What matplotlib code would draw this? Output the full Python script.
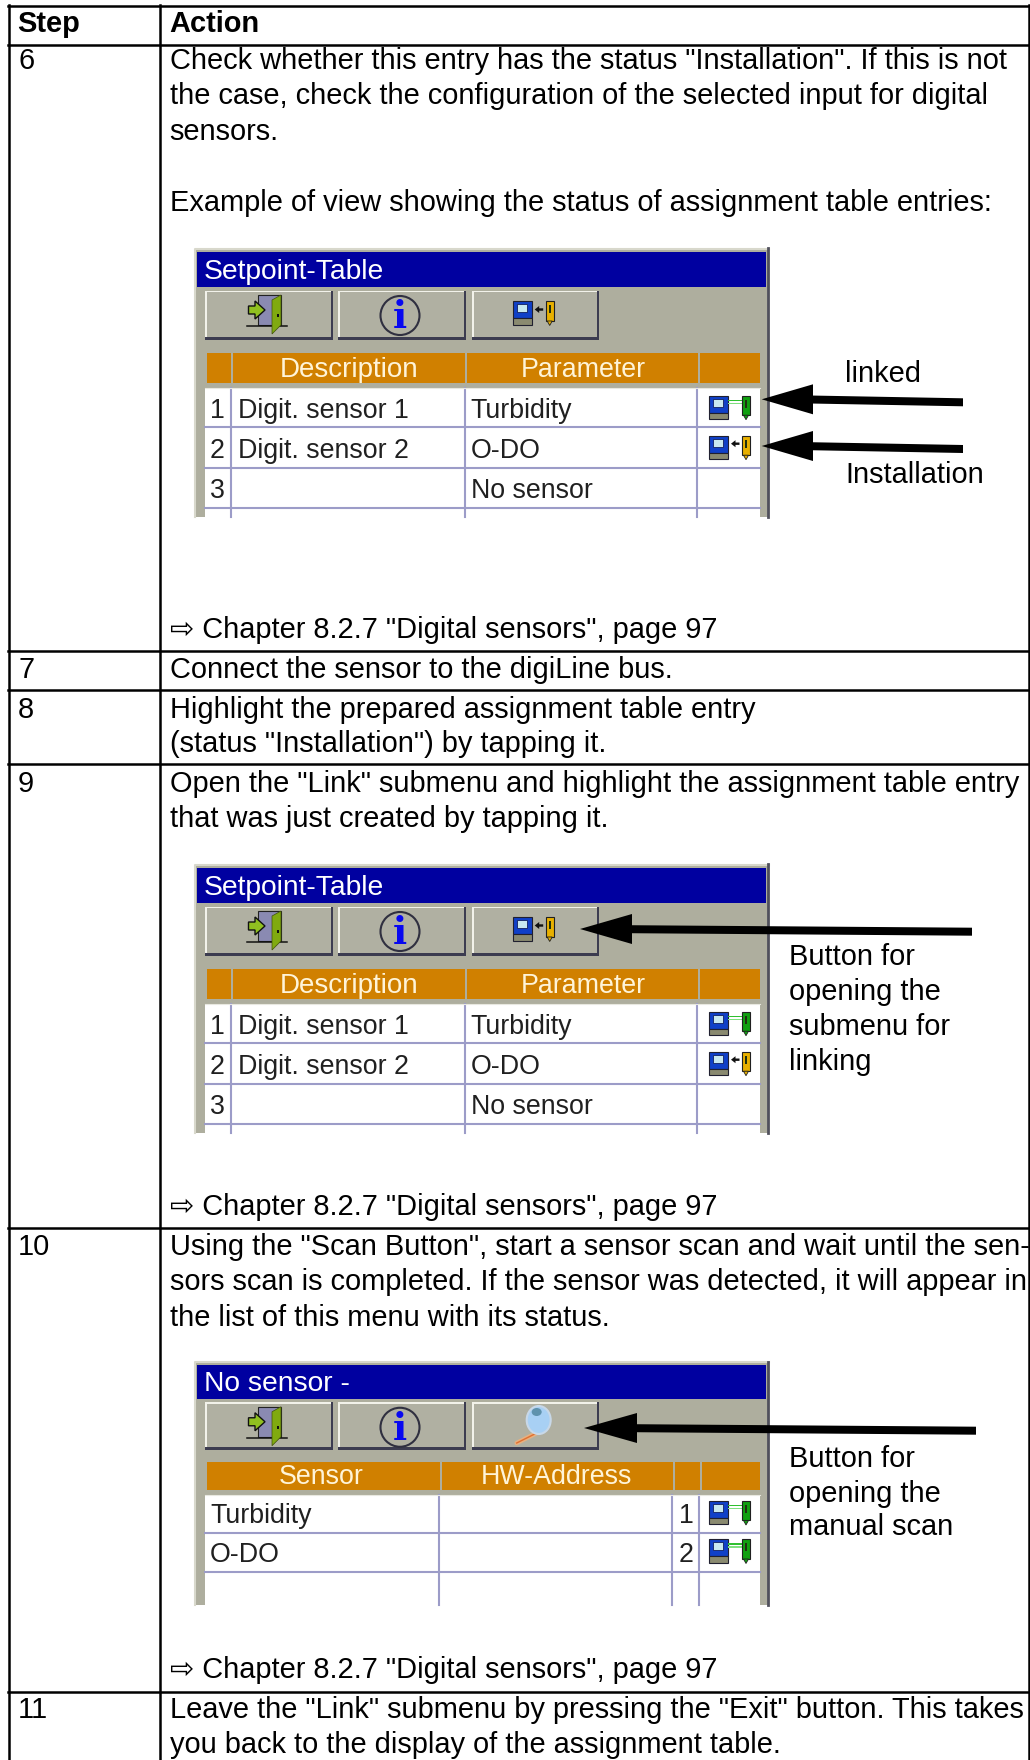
import matplotlib
matplotlib.use("Agg")
import matplotlib.pyplot as plt
from matplotlib.patches import Rectangle, Polygon, Circle, Ellipse

plt.rcParams['font.family'] = ['Liberation Sans', 'DejaVu Sans']

# table text
header = ["Step", "Action"]
row_lines = [650.7, 690, 764, 1228, 1692]
rows = [
    ("6", 69, [("Check whether this entry has the status \"Installation\". If this is not", 69),
               ("the case, check the configuration of the selected input for digital", 104.5),
               ("sensors.", 140),
               ("Example of view showing the status of assignment table entries:", 211),
               ("\u21e8 Chapter 8.2.7 \"Digital sensors\", page 97", 638)]),
    ("7", 678, [("Connect the sensor to the digiLine bus.", 678)]),
    ("8", 717.7, [("Highlight the prepared assignment table entry", 717.7),
                  ("(status \"Installation\") by tapping it.", 752.5)]),
    ("9", 792, [("Open the \"Link\" submenu and highlight the assignment table entry", 792),
                ("that was just created by tapping it.", 827),
                ("\u21e8 Chapter 8.2.7 \"Digital sensors\", page 97", 1215)]),
    ("10", 1255, [("Using the \"Scan Button\", start a sensor scan and wait until the sen-", 1255),
                  ("sors scan is completed. If the sensor was detected, it will appear in", 1290.5),
                  ("the list of this menu with its status.", 1325.5),
                  ("\u21e8 Chapter 8.2.7 \"Digital sensors\", page 97", 1678)]),
    ("11", 1718, [("Leave the \"Link\" submenu by pressing the \"Exit\" button. This takes", 1718),
                  ("you back to the display of the assignment table.", 1753)]),
]

# labels next to the screens
side_labels = [("linked", 381.7), ("Installation", 483),
               ("Button for", 965), ("opening the", 1000), ("submenu for", 1035), ("linking", 1070),
               ("Button for", 1466.7), ("opening the", 1501.7), ("manual scan", 1535)]

# screenshots
setpoint_headers = ["Description", "Parameter"]
setpoint_names = ["Digit. sensor 1", "Digit. sensor 2", ""]
setpoint_params = ["Turbidity", "O-DO", "No sensor"]
setpoint_status = ["linked", "install", None]
scan_headers = ["Sensor", "HW-Address"]
scan_names = ["Turbidity", "O-DO"]

BLUE = "#0000a0"
GREY = "#aeae9e"
ORANGE = "#d08000"
LINE = "#9c9cc8"
UI = 19.3  # pt, text in the screenshots


def rect(ax, x0, y0, x1, y1, fc, z=2, **kw):
    ax.add_patch(Rectangle((x0, y0), x1 - x0, y1 - y0, fc=fc, ec=kw.pop("ec", "none"), zorder=z, **kw))


def button(ax, x0, y0, x1, y1):
    rect(ax, x0, y0, x1, y1, "#3c3c50", 3)
    rect(ax, x0, y0, x1 - 2, y1 - 2.5, "#f2f2ea", 3)
    rect(ax, x0 + 1.5, y0 + 1.5, x1 - 2, y1 - 2.5, "#b0b0a2", 3)


def door_icon(ax, x, y):
    rect(ax, x + 53, y + 4, x + 76, y + 34, "#8a8ab2", 4, ec="#222222", lw=0.8)
    ax.plot([x + 42, x + 82], [y + 35.5, y + 35.5], color="#111111", lw=1.1, zorder=4)
    ax.add_patch(Polygon([(x + 76, y + 4), (x + 67, y + 9), (x + 67, y + 43), (x + 76, y + 34)],
                         fc="#80aa10", ec="#40500a", lw=0.5, zorder=5))
    ax.add_patch(Polygon([(x + 43.5, y + 15), (x + 50, y + 15), (x + 50, y + 10), (x + 60, y + 19),
                          (x + 50, y + 28), (x + 50, y + 23), (x + 43.5, y + 23)],
                         fc="#90c020", ec="#111111", lw=1, zorder=6))
    rect(ax, x + 71.5, y + 23, x + 73.5, y + 26, "#111111", 6)


def info_icon(ax, x, y):
    ax.add_patch(Circle((x + 62, y + 24.5), 19.5, fc="none", ec="#303040", lw=1.5, zorder=4))
    ax.text(x + 62, y + 37, "i", family="DejaVu Serif", weight="bold", color="#0808f0",
            fontsize=27, ha="center", va="baseline", zorder=5)


def sensor_icon(ax, x, y, status):
    rect(ax, x, y, x + 19, y + 17, "#1040c8", 5, ec="#202030", lw=0.8)
    rect(ax, x, y + 17, x + 19, y + 23.5, "#8a8a70", 5, ec="#202030", lw=0.8)
    rect(ax, x + 4, y + 3, x + 14, y + 11, "#c8e8f0", 6, ec="#102060", lw=0.6)
    if status == "linked":
        pen = "#10a010"
        rect(ax, x + 19, y + 4, x + 33, y + 5.5, "#30c030", 5)
        rect(ax, x + 19, y + 7, x + 33, y + 8.5, "#80e080", 5)
    else:
        pen = "#e8b000"
        ax.add_patch(Polygon([(x + 22, y + 8), (x + 26.5, y + 4.5), (x + 26.5, y + 6.8), (x + 30.5, y + 6.8),
                              (x + 30.5, y + 9.2), (x + 26.5, y + 9.2), (x + 26.5, y + 11.5)],
                             fc="#111111", ec="none", zorder=5))
    rect(ax, x + 33, y, x + 41, y + 19.5, pen, 5, ec="#202020", lw=0.8)
    rect(ax, x + 36, y + 4, x + 38, y + 12, "#203010", 6)
    ax.add_patch(Polygon([(x + 34.5, y + 19.5), (x + 39.5, y + 19.5), (x + 37, y + 24)], fc=pen, ec="#202020",
                         lw=0.6, zorder=5))


def magnifier_icon(ax, cx, cy):
    ax.plot([cx - 2, cx - 22], [cy + 13, cy + 23], color="#e8b080", lw=3.2, zorder=4, solid_capstyle="round")
    ax.plot([cx - 2, cx - 22], [cy + 13, cy + 23], color="#e07030", lw=1, zorder=4)
    ax.add_patch(Ellipse((cx, cy), 24, 28, fc="#a8d0f4", ec="#c8d8e8", lw=1.5, zorder=5))
    ax.add_patch(Ellipse((cx - 2, cy - 8), 10, 8, fc="#407890", ec="none", zorder=6, alpha=0.7))


def arrow(ax, tip, y_tip, base, end, y_end):
    y_base = y_tip + (y_end - y_tip) * 0.08
    ax.add_patch(Polygon([(tip, y_tip), (base, y_tip - 15), (base, y_tip + 15)], fc="black", ec="none", zorder=8))
    ax.add_patch(Polygon([(base - 1, y_base - 4), (end, y_end - 4), (end, y_end + 4), (base - 1, y_base + 4)],
                         fc="black", ec="none", zorder=8))


def screen(ax, top, bottom, sy, title, cols_h, cols_w):
    Y = lambda v: top + v * sy
    # frame and title bar
    rect(ax, 194.5, top, 769, bottom, GREY, 1)
    ax.plot([194.5, 194.5, 769], [bottom, top + 0.8, top + 0.8], color="#d8d8cc", lw=1.5, zorder=2)
    ax.plot([768, 768], [top, bottom], color="#50505c", lw=2, zorder=2)
    rect(ax, 197.3, Y(3.7), 766, Y(38.7), BLUE)
    ax.text(204, Y(31), title, color="white", fontsize=20.3, va="baseline", zorder=4)
    # buttons
    for x0, x1 in [(205, 333), (338, 466), (472, 599)]:
        button(ax, x0, Y(42.7), x1, Y(92))
    door_icon(ax, 205, Y(43))
    info_icon(ax, 338, Y(43))
    # orange header
    edges = [205.5] + cols_h + [761]
    for a, b in zip(edges[:-1], edges[1:]):
        rect(ax, a + 1, Y(104.7), b - 1, Y(134.7), ORANGE)
    # white cells
    rect(ax, 205, Y(139.7), 759.7, bottom, "white")
    for ly in [179.3, 220, 260]:
        if Y(ly) < bottom:
            ax.plot([205, 759.7], [Y(ly), Y(ly)], color=LINE, lw=1.5, zorder=3)
    for lx in cols_w:
        ax.plot([lx, lx], [Y(139.7), bottom], color=LINE, lw=1.5, zorder=3)
    ax.plot([204.5, 759.7], [Y(139.7), Y(139.7)], color="#e8e8e0", lw=0.8, zorder=3)


def label(ax, x, y, s, **kw):
    ax.text(x, y, s, va="baseline", zorder=4, **kw)


fig = plt.figure(figsize=(10.3, 17.6), dpi=100)
ax = fig.add_axes([0, 0, 1, 1])
ax.set_xlim(0, 1030)
ax.set_ylim(1760, 0)
ax.axis("off")

FS = 20.9

# grid of the table
for y in [5.7, 45] + row_lines:
    ax.plot([8, 1029], [y, y], color="black", lw=1.8, zorder=9)
for x in [8.5, 160, 1028.5]:
    ax.plot([x, x], [5, 1760], color="black", lw=1.8, zorder=9)

ax.text(17.3, 32.3, header[0], fontsize=FS, weight="bold", va="baseline")
ax.text(169.3, 32.3, header[1], fontsize=FS, weight="bold", va="baseline")
for step, y_step, lines in rows:
    ax.text(18, y_step, step, fontsize=FS, va="baseline")
    for s, y in lines:
        ax.text(169.5, y, s, fontsize=FS, va="baseline")

# the two setpoint screens
for top in [248, 864]:
    screen(ax, top, top + 268.7, 1.0, "Setpoint-Table", [232.4, 466.4, 698.7], [230.7, 465, 697])
    label(ax, 349, top + 128.7, setpoint_headers[0], color="#fff4d8", fontsize=20, ha="center")
    label(ax, 583, top + 128.7, setpoint_headers[1], color="#fff4d8", fontsize=UI, ha="center")
    sensor_icon(ax, 512.7, top + 53.5, "install")
    for i in range(3):
        yb = top + 170 + i * 40
        label(ax, 210, yb, str(i + 1), color="#202020", fontsize=UI)
        label(ax, 238, yb, setpoint_names[i], color="#202020", fontsize=UI)
        label(ax, 470.6, yb, setpoint_params[i], color="#202020", fontsize=UI)
        if setpoint_status[i]:
            sensor_icon(ax, 709, top + 147.7 + i * 40, setpoint_status[i])

# the scan screen
top3 = 1361.7
screen(ax, top3, 1605, 0.955, "No sensor -", [440.8, 674, 701], [438.7, 672, 699])
label(ax, 321, 1484, scan_headers[0], color="#fff4d8", fontsize=UI, ha="center")
label(ax, 556, 1484, scan_headers[1], color="#fff4d8", fontsize=UI, ha="center")
magnifier_icon(ax, 538.7, 1420)
for i in range(2):
    yb = 1523 + i * 38.5
    label(ax, 210, yb, scan_names[i], color="#202020", fontsize=UI)
    label(ax, 679, yb, str(i + 1), color="#202020", fontsize=UI)
    sensor_icon(ax, 709, 1501 + i * 38.5, "linked")

# arrows and their labels
arrow(ax, 761.7, 399.3, 813, 963, 402.3)
arrow(ax, 761.7, 446, 813, 963, 449)
arrow(ax, 580, 929, 632, 972, 931.7)
arrow(ax, 584, 1428, 637, 976, 1430.7)
for i, (s, y) in enumerate(side_labels):
    ax.text(845 if i < 2 else 788.7, y, s, fontsize=FS, va="baseline", zorder=9)

fig.savefig("out.png", dpi=100, facecolor="white")
